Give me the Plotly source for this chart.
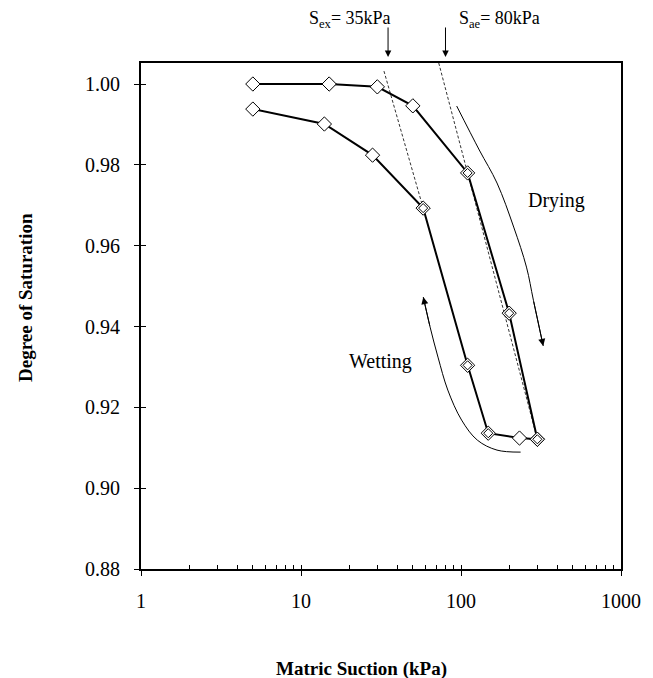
import numpy as np
import plotly.graph_objects as go

# ---- data ----
drying_suction = [5, 15, 30, 50, 110, 200, 300]
drying_saturation = [1.000, 1.000, 0.9993, 0.9946, 0.978, 0.9433, 0.9121]
wetting_suction = [300, 232, 148, 110, 58, 28, 14, 5]
wetting_saturation = [0.9121, 0.9124, 0.9136, 0.9304, 0.9693, 0.9824, 0.9901, 0.9938]
drying_double_idx = [4, 5, 6]
wetting_double_idx = [2, 3, 4]

S_ex = 35
S_ae = 80
tangent_ex_suction = [33, 58]
tangent_ex_saturation = [1.0032, 0.9693]
tangent_ae_suction = [72.6, 300]
tangent_ae_saturation = [1.0052, 0.9121]

drying_arrow_suction = [94.0, 130.1, 167.9, 213.5, 256.6, 283.5, 326.5]
drying_arrow_saturation = [0.99455, 0.98367, 0.9755, 0.9646, 0.9547, 0.9465, 0.9352]
wetting_arrow_suction = [235.8, 167.9, 126.5, 100.9, 82.7, 71.8, 64.1, 58.1]
wetting_arrow_saturation = [0.90892, 0.90942, 0.91189, 0.91684, 0.92427, 0.93243, 0.93986, 0.94728]

y_ticks = [0.88, 0.90, 0.92, 0.94, 0.96, 0.98, 1.00]
x_ticks = [1, 10, 100, 1000]
x_minor = [m * d for d in (1, 10, 100) for m in range(2, 10)]
y_range = [0.88, 1.0052]

FONT = "Liberation Serif, Times New Roman, serif"

fig = go.Figure()

# tangent lines
fig.add_trace(go.Scatter(x=tangent_ex_suction, y=tangent_ex_saturation, mode="lines",
                         line=dict(color="#333", width=1, dash="3px,2px"), hoverinfo="skip"))
fig.add_trace(go.Scatter(x=tangent_ae_suction, y=tangent_ae_saturation, mode="lines",
                         line=dict(color="#333", width=1, dash="3px,2px"), hoverinfo="skip"))

mk = dict(symbol="diamond", size=11, color="white", line=dict(color="black", width=1))
fig.add_trace(go.Scatter(x=drying_suction, y=drying_saturation, mode="lines+markers",
                         line=dict(color="black", width=2), marker=mk, name="Drying"))
fig.add_trace(go.Scatter(x=wetting_suction, y=wetting_saturation, mode="lines+markers",
                         line=dict(color="black", width=2), marker=mk, name="Wetting"))

# doubled markers
dbl_x = [drying_suction[i] for i in drying_double_idx] + [wetting_suction[i] for i in wetting_double_idx]
dbl_y = [drying_saturation[i] for i in drying_double_idx] + [wetting_saturation[i] for i in wetting_double_idx]
fig.add_trace(go.Scatter(x=dbl_x, y=dbl_y, mode="markers",
                         marker=dict(symbol="diamond", size=7, color="white",
                                     line=dict(color="black", width=1)), hoverinfo="skip"))

# curved direction arrows
for cx, cy in ((drying_arrow_suction, drying_arrow_saturation),
               (wetting_arrow_suction, wetting_arrow_saturation)):
    fig.add_trace(go.Scatter(x=cx, y=cy, mode="lines", line=dict(color="black", width=1, shape="spline"),
                             hoverinfo="skip"))
    fig.add_annotation(x=np.log10(cx[-1]), y=cy[-1], ax=np.log10(cx[-2]), ay=cy[-2],
                       xref="x", yref="y", axref="x", ayref="y", text="", showarrow=True,
                       arrowhead=2, arrowsize=1.4, arrowwidth=1, arrowcolor="black", standoff=0)

# dummy trace for overlay tick axes
fig.add_trace(go.Scatter(x=drying_suction[:1], y=drying_saturation[:1], xaxis="x2", yaxis="y2",
                         mode="markers", marker=dict(opacity=0), hoverinfo="skip"))

axis_font = dict(family=FONT, size=20, color="black")
fig.update_layout(
    width=653, height=678, autosize=False,
    margin=dict(l=141, r=24, t=63, b=109),
    paper_bgcolor="white", plot_bgcolor="white",
    showlegend=False,
    xaxis=dict(type="log", range=[0, 3], tickvals=x_ticks, ticktext=[str(v) for v in x_ticks],
               ticks="outside", ticklen=5, tickwidth=1, tickcolor="black",
               showline=True, linewidth=2, linecolor="black", mirror=True,
               showgrid=False, zeroline=False, tickfont=axis_font, ticklabelstandoff=8),
    yaxis=dict(range=y_range, tickvals=y_ticks, ticktext=[f"{v:.2f}" for v in y_ticks],
               ticks="outside", ticklen=5, tickwidth=1, tickcolor="black",
               showline=True, linewidth=2, linecolor="black", mirror=True,
               showgrid=False, zeroline=False, tickfont=axis_font, ticklabelstandoff=10),
    xaxis2=dict(type="log", range=[0, 3], overlaying="x", anchor="y2", side="bottom",
                tickvals=x_ticks + x_minor, ticks="inside", ticklen=4, tickwidth=1, tickcolor="black",
                showticklabels=False, showline=False, showgrid=False, zeroline=False),
    yaxis2=dict(range=y_range, overlaying="y", anchor="x2", side="left",
                tickvals=y_ticks, ticks="inside", ticklen=5, tickwidth=1, tickcolor="black",
                showticklabels=False, showline=False, showgrid=False, zeroline=False),
)

# axis titles
fig.add_annotation(text="<b>Matric Suction (kPa)</b>", xref="paper", yref="paper", x=0.459, y=-0.1976,
                   showarrow=False, font=dict(family=FONT, size=19, color="black"),
                   xanchor="center", yanchor="middle")
fig.add_annotation(text="<b>Degree of Saturation</b>", xref="paper", yref="paper", x=-0.2418, y=0.5375,
                   showarrow=False, textangle=-90, font=dict(family=FONT, size=19, color="black"),
                   xanchor="center", yanchor="middle")

# top arrows and labels
for val, lab, anchor, shift in ((S_ex, "S<sub>ex</sub>= %dkPa" % S_ex, "right", 5),
                                (S_ae, "S<sub>ae</sub>= %dkPa" % S_ae, "left", 12)):
    fig.add_annotation(x=np.log10(val), y=1.0119, xref="x", yref="paper", ax=0, ay=-31,
                       text="", showarrow=True, arrowhead=2, arrowsize=1.3, arrowwidth=1,
                       arrowcolor="black", standoff=0)
    fig.add_annotation(x=np.log10(val), y=1.085, xref="x", yref="paper", text=lab, showarrow=False,
                       xanchor=anchor, xshift=shift, yanchor="middle",
                       font=dict(family=FONT, size=18, color="black"))

fig.add_annotation(x=np.log10(392.6), y=0.9713, xref="x", yref="y", text="Drying", showarrow=False,
                   font=dict(family=FONT, size=20, color="black"))
fig.add_annotation(x=np.log10(31.2), y=0.9314, xref="x", yref="y", text="Wetting", showarrow=False,
                   font=dict(family=FONT, size=20, color="black"))

fig.write_html("out.html", config={"displayModeBar": False, "staticPlot": True},
               post_script="document.body.style.margin='0';document.body.style.overflow='hidden';")
